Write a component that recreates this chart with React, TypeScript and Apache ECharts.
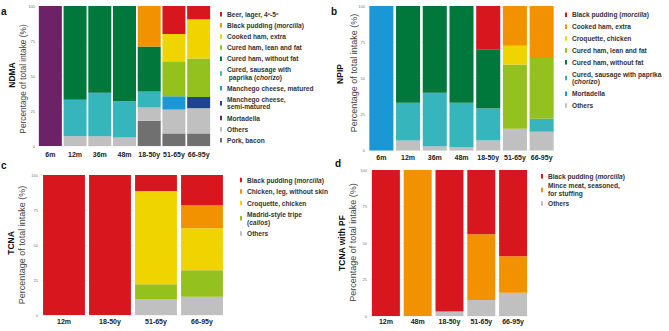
import React, { useEffect, useRef } from "react";
import * as echarts from "echarts";

const FONT = "'Liberation Sans', Arial, Helvetica, sans-serif";

// Palette shared by the four panels
const RED = "#d7161d";
const ORANGE = "#f39200";
const YELLOW = "#efd400";
const LIME = "#95c11f";
const GREEN = "#00773b";
const TEAL = "#36b5bd";
const SKY = "#1a98d5";
const NAVY = "#1e4294";
const PURPLE = "#6d2167";
const GREY = "#c0c0c0";
const DARKGREY = "#707070";

type V = number | null;

// ---- a: NDMA ----
const catsA = ["6m", "12m", "36m", "48m", "18-50y", "51-65y", "66-95y"];
const aBeer: V[] = [null, null, null, null, null, 20, 9.5];
const aBlackPudding: V[] = [null, null, null, null, 29, null, null];
const aCookedHam: V[] = [null, null, null, null, null, 19.5, 28];
const aCuredLeanFat: V[] = [null, null, null, null, null, 25, 27.5];
const aCuredNoFat: V[] = [null, 67, 62, 68, 32, null, null];
const aChorizo: V[] = [null, 26, 31, 26, 11.5, null, null];
const aManchegoMatured: V[] = [null, null, null, null, null, 9.5, null];
const aManchegoSemi: V[] = [null, null, null, null, null, null, 8];
const aMortadella: V[] = [100, null, null, null, null, null, null];
const aOthers: V[] = [null, 7, 7, 6, 9.5, 17, 18];
const aPorkBacon: V[] = [null, null, null, null, 18, 9, 9];

// ---- b: NPIP ----
const catsB = ["6m", "12m", "36m", "48m", "18-50y", "51-65y", "66-95y"];
const bBlackPudding: V[] = [null, null, null, null, 30, null, null];
const bCookedHam: V[] = [null, null, null, null, null, 27.5, 36];
const bCroquette: V[] = [null, null, null, null, null, 13, null];
const bCuredLeanFat: V[] = [null, null, null, null, null, 44.5, 42];
const bCuredNoFat: V[] = [null, 67, 60, 67, 41, null, null];
const bChorizo: V[] = [null, 26, 37, 30.5, 22, null, 9];
const bMortadella: V[] = [100, null, null, null, null, null, null];
const bOthers: V[] = [null, 7, 3, 2.5, 7, 15, 13];

// ---- c: TCNA ----
const catsC = ["12m", "18-50y", "51-65y", "66-95y"];
const cBlackPudding: V[] = [100, 100, 11.5, 21.5];
const cChicken: V[] = [null, null, null, 16.5];
const cCroquette: V[] = [null, null, 66.5, 30];
const cTripe: V[] = [null, null, 11, 19];
const cOthers: V[] = [null, null, 11, 13];

// ---- d: TCNA with PF ----
const catsD = ["12m", "48m", "18-50y", "51-65y", "66-95y"];
const dBlackPudding: V[] = [100, null, 97, 44, 59];
const dMince: V[] = [null, 100, null, 45, 25];
const dOthers: V[] = [null, null, 3, 11, 16];

const yTicks = { min: 0, max: 100, interval: 25 };

type Part = { key: string; label: string; color: string; values: V[] };

// Legend order (top to bottom); stacking goes the other way round
const partsA: Part[] = [
  { key: "a-beer", label: "Beer, lager, 4º-5º", color: RED, values: aBeer },
  { key: "a-bp", label: "Black pudding ({i|morcilla})", color: ORANGE, values: aBlackPudding },
  { key: "a-cooked", label: "Cooked ham, extra", color: YELLOW, values: aCookedHam },
  { key: "a-lean", label: "Cured ham, lean and fat", color: LIME, values: aCuredLeanFat },
  { key: "a-nofat", label: "Cured ham, without fat", color: GREEN, values: aCuredNoFat },
  { key: "a-chorizo", label: "Cured, sausage with\n paprika ({i|chorizo})", color: TEAL, values: aChorizo },
  { key: "a-mmat", label: "Manchego cheese, matured", color: SKY, values: aManchegoMatured },
  { key: "a-msemi", label: "Manchego cheese,\nsemi-matured", color: NAVY, values: aManchegoSemi },
  { key: "a-mort", label: "Mortadella", color: PURPLE, values: aMortadella },
  { key: "a-oth", label: "Others", color: GREY, values: aOthers },
  { key: "a-pork", label: "Pork, bacon", color: DARKGREY, values: aPorkBacon },
];

const partsB: Part[] = [
  { key: "b-bp", label: "Black pudding ({i|morcilla})", color: RED, values: bBlackPudding },
  { key: "b-cooked", label: "Cooked ham, extra", color: ORANGE, values: bCookedHam },
  { key: "b-croq", label: "Croquette, chicken", color: YELLOW, values: bCroquette },
  { key: "b-lean", label: "Cured ham, lean and fat", color: LIME, values: bCuredLeanFat },
  { key: "b-nofat", label: "Cured ham, without fat", color: GREEN, values: bCuredNoFat },
  { key: "b-chorizo", label: "Cured, sausage with paprika\n({i|chorizo})", color: TEAL, values: bChorizo },
  { key: "b-mort", label: "Mortadella", color: SKY, values: bMortadella },
  { key: "b-oth", label: "Others", color: GREY, values: bOthers },
];

const partsC: Part[] = [
  { key: "c-bp", label: "Black pudding ({i|morcilla})", color: RED, values: cBlackPudding },
  { key: "c-chicken", label: "Chicken, leg, without skin", color: ORANGE, values: cChicken },
  { key: "c-croq", label: "Croquette, chicken", color: YELLOW, values: cCroquette },
  { key: "c-tripe", label: "Madrid-style tripe\n({i|callos})", color: LIME, values: cTripe },
  { key: "c-oth", label: "Others", color: GREY, values: cOthers },
];

const partsD: Part[] = [
  { key: "d-bp", label: "Black pudding ({i|morcilla})", color: RED, values: dBlackPudding },
  { key: "d-mince", label: "Mince meat, seasoned,\nfor stuffing", color: ORANGE, values: dMince },
  { key: "d-oth", label: "Others", color: GREY, values: dOthers },
];

type Panel = {
  id: string;
  letter: string;
  title: string;
  cats: string[];
  parts: Part[];
  grid: { left: number; top: number; width: number; height: number };
  gap: string;
  labelMargin: number;
  legend: { left: number; top: number; gap: number; lh: number };
  letterPos: [number, number];
  titleX: number;
  titleY: number;
  axisTitleX: number;
  axisTitleY: number;
  axisTitleSize: number;
};

const panels: Panel[] = [
  {
    id: "a", letter: "a", title: "NDMA", cats: catsA, parts: partsA,
    grid: { left: 38, top: 6, width: 173, height: 140 }, gap: "7%", labelMargin: 5,
    legend: { left: 220, top: 10.5, gap: 3.6, lh: 7.5 },
    letterPos: [1, 11.5], titleX: 12, titleY: 75, axisTitleX: 23, axisTitleY: 79, axisTitleSize: 8.3,
  },
  {
    id: "b", letter: "b", title: "NPIP", cats: catsB, parts: partsB,
    grid: { left: 368, top: 6, width: 187, height: 144.5 }, gap: "10%", labelMargin: 3.5,
    legend: { left: 565, top: 11, gap: 4.4, lh: 7.5 },
    letterPos: [331, 11.5], titleX: 340, titleY: 74, axisTitleX: 353.5, axisTitleY: 73, axisTitleSize: 9,
  },
  {
    id: "c", letter: "c", title: "TCNA", cats: catsC, parts: partsC,
    grid: { left: 41, top: 175, width: 184, height: 140 }, gap: "9%", labelMargin: 3,
    legend: { left: 240, top: 176.3, gap: 4, lh: 7.5 },
    letterPos: [1, 165.5], titleX: 10.5, titleY: 243, axisTitleX: 21.5, axisTitleY: 245, axisTitleSize: 9,
  },
  {
    id: "d", letter: "d", title: "TCNA with PF", cats: catsD, parts: partsD,
    grid: { left: 370, top: 170, width: 159, height: 146 }, gap: "12%", labelMargin: 1.5,
    legend: { left: 541, top: 172.3, gap: 1.6, lh: 8 },
    letterPos: [335, 163.5], titleX: 341.5, titleY: 243, axisTitleX: 352.5, axisTitleY: 242.5, axisTitleSize: 9,
  },
];

const LEGEND_FONT = 6.6;

function buildOption(): echarts.EChartsCoreOption {
  const grid: any[] = [];
  const xAxis: any[] = [];
  const yAxis: any[] = [];
  const series: any[] = [];
  const legend: any[] = [];
  const graphic: any[] = [];

  panels.forEach((p, idx) => {
    grid.push({ ...p.grid, containLabel: false });
    xAxis.push({
      type: "category",
      gridIndex: idx,
      data: p.cats,
      axisLine: { show: false },
      axisTick: { show: false },
      axisLabel: {
        fontSize: 7,
        fontWeight: "bold",
        color: "#222",
        fontFamily: FONT,
        margin: p.labelMargin,
        interval: 0,
      },
    });
    yAxis.push({
      type: "value",
      gridIndex: idx,
      ...yTicks,
      axisLine: { show: false },
      axisTick: { show: false },
      axisLabel: { fontSize: 4, color: "#777", fontFamily: FONT, margin: 3 },
      splitLine: { show: true, lineStyle: { color: "#eeeeee", width: 0.6 } },
    });

    // stack from the bottom: reverse of the legend order
    [...p.parts].reverse().forEach((part) => {
      series.push({
        type: "bar",
        name: part.key,
        stack: p.id,
        xAxisIndex: idx,
        yAxisIndex: idx,
        data: part.values,
        barCategoryGap: p.gap,
        itemStyle: { color: part.color },
        emphasis: { disabled: true },
      });
    });

    const labels: Record<string, string> = {};
    p.parts.forEach((part) => (labels[part.key] = part.label));
    legend.push({
      orient: "vertical",
      left: p.legend.left,
      top: p.legend.top,
      padding: 0,
      itemWidth: 2,
      itemHeight: 4.5,
      itemGap: p.legend.gap,
      icon: "rect",
      selectedMode: false,
      data: p.parts.map((part) => part.key),
      formatter: (name: string) => labels[name],
      textStyle: {
        fontSize: LEGEND_FONT,
        fontWeight: "bold",
        color: "#333",
        fontFamily: FONT,
        lineHeight: p.legend.lh,
        rich: {
          i: {
            fontSize: LEGEND_FONT,
            fontWeight: "bold",
            fontStyle: "italic",
            color: "#333",
            fontFamily: FONT,
            lineHeight: p.legend.lh,
          },
        },
      },
    });

    graphic.push({
      type: "text",
      x: p.letterPos[0],
      y: p.letterPos[1],
      style: {
        text: p.letter,
        fontSize: 10,
        fontWeight: "bold",
        fill: "#111",
        fontFamily: FONT,
        align: "left",
        verticalAlign: "middle",
      },
    });
    graphic.push({
      type: "text",
      x: p.titleX,
      y: p.titleY,
      rotation: Math.PI / 2,
      style: {
        text: p.title,
        fontSize: 8.5,
        fontWeight: "bold",
        fill: "#111",
        fontFamily: FONT,
        align: "center",
        verticalAlign: "middle",
      },
    });
    graphic.push({
      type: "text",
      x: p.axisTitleX,
      y: p.axisTitleY,
      rotation: Math.PI / 2,
      style: {
        text: "Percentage of total intake (%)",
        fontSize: p.axisTitleSize,
        fill: "#444",
        fontFamily: FONT,
        align: "center",
        verticalAlign: "middle",
      },
    });
  });

  return {
    animation: false,
    backgroundColor: "#ffffff",
    textStyle: { fontFamily: FONT },
    grid,
    xAxis,
    yAxis,
    series,
    legend,
    graphic,
  };
}

export default function App() {
  const ref = useRef<HTMLDivElement>(null);

  useEffect(() => {
    if (!ref.current) return;
    const chart = echarts.init(ref.current, undefined, { renderer: "svg" });
    chart.setOption(buildOption());
    return () => chart.dispose();
  }, []);

  return (
    <div
      ref={ref}
      style={{
        position: "fixed",
        left: 0,
        top: 0,
        width: 669,
        height: 331,
        background: "#ffffff",
      }}
    />
  );
}
